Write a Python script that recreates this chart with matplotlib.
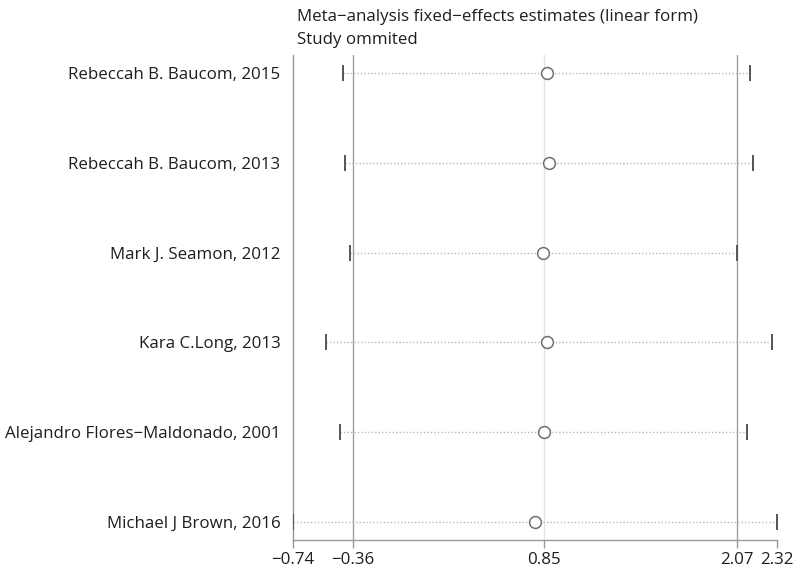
import matplotlib
matplotlib.use("Agg")
import matplotlib.pyplot as plt

# studies (omitted one at a time) and the pooled estimate without each
studies = ["Rebeccah B. Baucom, 2015", "Rebeccah B. Baucom, 2013", "Mark J. Seamon, 2012",
           "Kara C.Long, 2013", "Alejandro Flores\u2212Maldonado, 2001", "Michael J Brown, 2016"]
estimate = [0.87, 0.88, 0.84, 0.87, 0.85, 0.79]
lower = [-0.42, -0.41, -0.38, -0.53, -0.44, -0.74]
upper = [2.15, 2.17, 2.07, 2.29, 2.13, 2.32]

# overall estimate and its CI, plus axis limits
overall = [-0.36, 0.85, 2.07]
xticks = [-0.74, -0.36, 0.85, 2.07, 2.32]
xticklabels = ["\u22120.74", "\u22120.36", "0.85", "2.07", "2.32"]

plt.rcParams['font.family'] = ['Open Sans', 'DejaVu Sans']
txt = '#1e1e1e'
fs = 12.2

fig = plt.figure(figsize=(8, 5.71), dpi=100)
ax = fig.add_axes([0.366, 0.0543, 0.605, 0.8494])

ypos = list(range(1, len(studies) + 1))

for v, c in zip(overall, ['#a0a0a0', '#e2e2e2', '#a0a0a0']):
    ax.axvline(v, color=c, lw=1.0, zorder=1)

for y, lo, hi in zip(ypos, lower, upper):
    ax.plot([lo, hi], [y, y], color='#b8b8b8', lw=1.0, ls=(0, (1, 1.5)), zorder=2)
ax.plot(lower, ypos, ls='none', marker='|', ms=12, mew=1.4, color='#555555', zorder=3)
ax.plot(upper, ypos, ls='none', marker='|', ms=12, mew=1.4, color='#555555', zorder=3)
ax.plot(estimate, ypos, ls='none', marker='o', ms=8.5, mfc='white', mec='#707070', mew=1.1, zorder=4)

ax.set_xlim(xticks[0], xticks[-1])
ax.set_ylim(len(studies) + 0.2, 0.8)
ax.set_xticks(xticks)
ax.set_xticklabels(xticklabels, fontsize=fs, color=txt)
ax.set_yticks(ypos)
ax.set_yticklabels(studies, fontsize=fs, color=txt)
ax.tick_params(axis='y', length=0, pad=9)
ax.tick_params(axis='x', length=6, width=1, color='#999999', pad=3)

for s in ['top', 'right']:
    ax.spines[s].set_visible(False)
for s in ['left', 'bottom']:
    ax.spines[s].set_color('#999999')
    ax.spines[s].set_linewidth(1.0)

fig.text(0.371, 0.963, "Meta\u2212analysis fixed\u2212effects estimates (linear form)",
         fontsize=fs, color=txt, va='baseline')
fig.text(0.371, 0.923, "Study ommited", fontsize=fs, color=txt, va='baseline')

fig.savefig("out.png", dpi=100)
